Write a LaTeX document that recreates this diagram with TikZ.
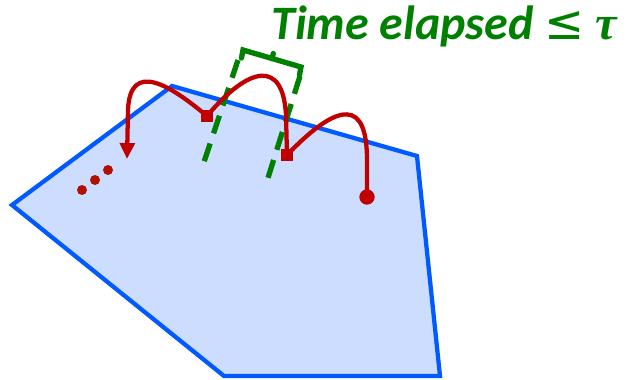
\documentclass[tikz,border=0pt]{standalone}
\usepackage{fontspec}
\setmainfont{Carlito}
\newfontfamily\symfont{DejaVu Sans}
\newfontfamily\greekfont{Liberation Serif}
\usetikzlibrary{arrows.meta,calc}
\definecolor{regionfill}{RGB}{204,221,255}
\definecolor{regionline}{RGB}{0,90,255}
\definecolor{trajred}{RGB}{192,0,0}
\definecolor{dotred}{RGB}{176,16,0}
\definecolor{tgreen}{RGB}{0,128,0}
\tikzset{
  region/.style={draw=regionline, fill=regionfill, line width=3.2pt, line join=miter},
  traj/.style={draw=trajred, line width=3.2pt},
  sqmark/.style={fill=trajred, minimum size=9pt, inner sep=0pt, draw=none},
  startdot/.style={circle, fill=trajred, minimum size=11.5pt, inner sep=0pt},
  smalldot/.style={circle, fill=dotred, minimum size=7.5pt, inner sep=0pt},
  wall/.style={draw=tgreen, line width=4pt, dash pattern=on 14pt off 8pt},
  brack/.style={draw=tgreen, line width=4pt, line cap=round},
}
\begin{document}
\begin{tikzpicture}[x=0.75pt,y=-0.75pt]
\useasboundingbox (0,0) rectangle (629,379);
% region
\draw[region] (12,205) -- (172,86) -- (417,156) -- (440,376) -- (224,376) -- cycle;
% walls
\coordinate (w1a) at (238,60);
\coordinate (w1b) at (202,168);
\coordinate (w2a) at (300,76);
\coordinate (w2b) at (267,181);
\draw[wall] (w1a) -- (w1b);
\draw[wall] (w2a) -- (w2b);
% bracket
\coordinate (ba) at (243,50);
\coordinate (bb) at (301,67);
\coordinate (bm) at (272,58.5);
\draw[brack] ($(ba)+(-1.5,8)$) -- (ba) -- (bb) -- ($(bb)+(-1.5,8)$);
\draw[brack] (bm) -- ($(bm)+(1.3,-5)$);
% trajectory nodes
\node[startdot] (s0) at (367,197) {};
\node[sqmark] (s1) at (287,155) {};
\node[sqmark] (s2) at (207,116) {};
\coordinate (tip) at (127,159);
\draw[traj] (s0.center) -- (367,160) .. controls (367,100) and (340,100) .. (s1.center);
\draw[traj] (s1.center) -- (286,115) .. controls (283,60) and (250,65) .. (s2.center);
\draw[traj, -{Triangle[length=12pt,width=11pt]}] (s2.center) .. controls (170,85) and (130,60) .. (128,110) -- (tip);
% dots
\node[smalldot] (d1) at (82,190) {};
\node[smalldot] (d2) at (95,180) {};
\node[smalldot] (d3) at (108,170) {};
% label
\node[text=tgreen, font=\fontsize{36}{40}\selectfont\bfseries\itshape, anchor=base east, inner sep=0pt] (lbl) at (617,39) {Time elapsed {\symfont\upshape\mdseries ≤} {\greekfont τ}};
\end{tikzpicture}
\end{document}
